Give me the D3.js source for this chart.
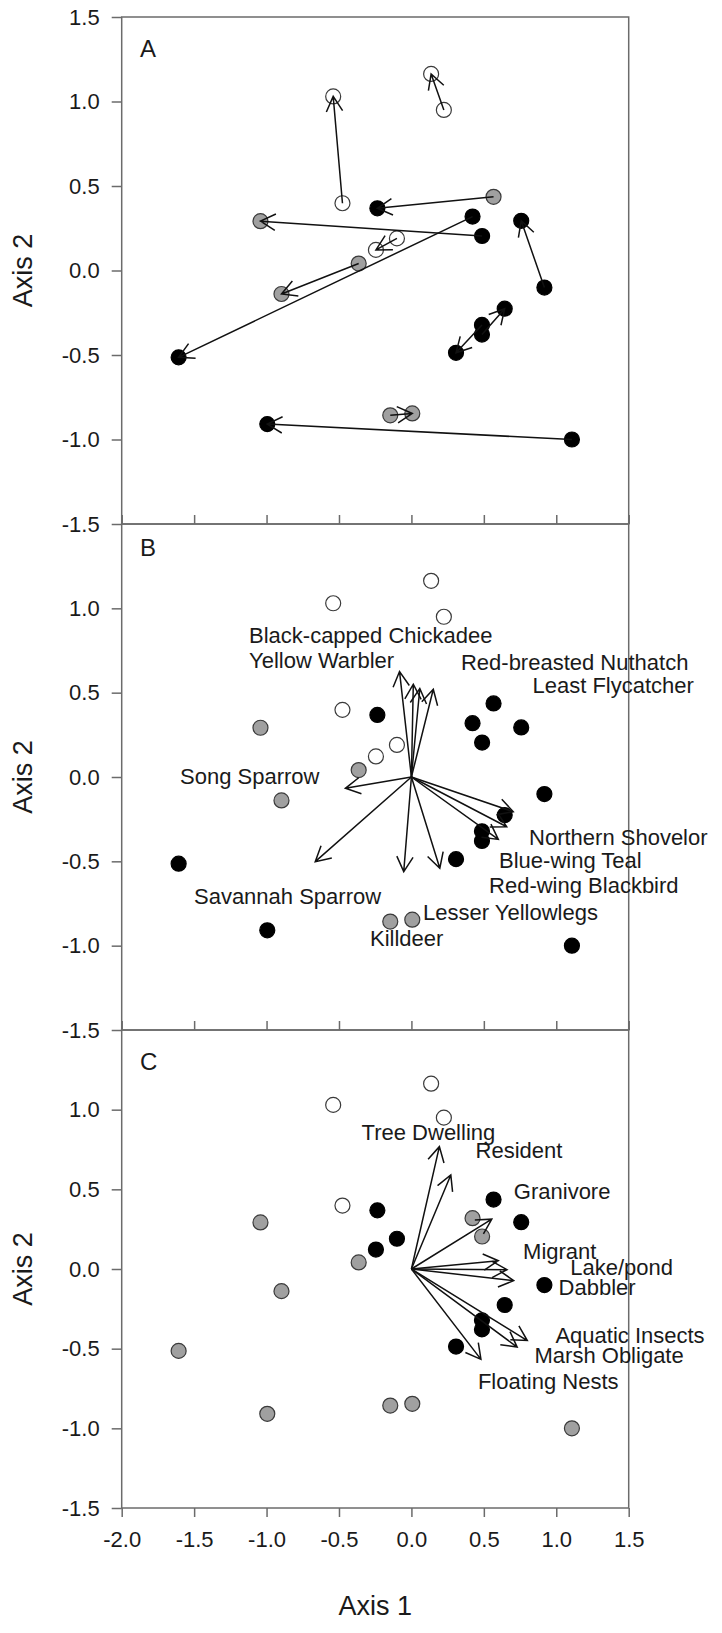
<!DOCTYPE html>
<html>
<head>
<meta charset="utf-8">
<script src="https://cdn.jsdelivr.net/npm/d3@7"></script>
<style>
body { margin: 0; background: #fff; }
svg { display: block; }
text { font-family: "Liberation Sans", Arial, sans-serif; fill: #1a1a1a; }
</style>
</head>
<body>
<svg id="chart"></svg>
<script>
//
// Data
//

// site scores on the two ordination axes (same sites in every panel)
var siteX = [-0.54, 0.136, 0.224, -0.476, -0.10, -0.245, -1.042, -0.364, -0.897, -0.146, 0.006,
  -0.235, 0.567, 0.422, 0.488, 0.758, 0.918, 0.644, 0.487, 0.487, 0.308, -1.607, -0.995, 1.108]
var siteY = [1.03, 1.163, 0.95, 0.398, 0.19, 0.122, 0.292, 0.041, -0.139, -0.857, -0.846,
  0.368, 0.436, 0.319, 0.204, 0.294, -0.101, -0.226, -0.322, -0.379, -0.487, -0.514, -0.909, -1.0]

// symbol per site: o = open, g = grey, b = black
var groupA = ['o','o','o','o','o','o','g','g','g','g','g','b','g','b','b','b','b','b','b','b','b','b','b','b']
var groupB = ['o','o','o','o','o','o','g','g','g','g','g','b','b','b','b','b','b','b','b','b','b','b','b','b']
var groupC = ['o','o','o','o','b','b','g','g','g','g','g','b','b','g','g','b','b','b','b','b','b','g','g','g']

// panel A: movement of sites (index from -> index to)
var moveFrom = [3, 2, 4, 12, 14, 7, 13, 16, 19, 18, 9, 23]
var moveTo   = [0, 1, 5, 11, 6, 8, 21, 15, 17, 20, 10, 22]

// panel B: species vectors
var speciesNames = ['Black-capped Chickadee', 'Yellow Warbler', 'Red-breasted Nuthatch', 'Least Flycatcher',
  'Song Sparrow', 'Northern Shovelor', 'Blue-wing Teal', 'Red-wing Blackbird',
  'Savannah Sparrow', 'Lesser Yellowlegs', 'Killdeer']
var speciesX = [-0.082, 0.013, 0.058, 0.151, -0.456, 0.703, 0.658, 0.60, -0.664, 0.196, -0.053]
var speciesY = [0.625, 0.55, 0.525, 0.52, -0.067, -0.206, -0.295, -0.37, -0.502, -0.541, -0.561]
var speciesLabelX = [-1.121, -1.121, 0.342, 0.836, -1.597, 0.812, 0.605, 0.536, -1.501, 0.08, -0.286]
var speciesLabelY = [0.795, 0.647, 0.634, 0.498, -0.04, -0.403, -0.539, -0.688, -0.753, -0.848, -1.002]

// panel C: trait vectors
var traitNames = ['Tree Dwelling', 'Resident', 'Granivore', 'Migrant', 'Lake/pond', 'Dabbler',
  'Aquatic Insects', 'Marsh Obligate', 'Floating Nests']
var traitX = [0.193, 0.272, 0.555, 0.60, 0.66, 0.706, 0.80, 0.73, 0.48]
var traitY = [0.768, 0.59, 0.313, 0.052, -0.004, -0.073, -0.449, -0.49, -0.567]
var traitLabelX = [-0.344, 0.443, 0.707, 0.771, 1.096, 1.016, 0.994, 0.85, 0.459]
var traitLabelY = [0.809, 0.696, 0.439, 0.063, -0.039, -0.165, -0.467, -0.587, -0.75]

// ticks
var xTicks = [-2.0, -1.5, -1.0, -0.5, 0.0, 0.5, 1.0, 1.5]
var yTicksA = [1.5, 1.0, 0.5, 0.0, -0.5, -1.0, -1.5]
var yTicksBC = [1.0, 0.5, 0.0, -0.5, -1.0, -1.5]

//
// Layout
//

var width = 722, height = 1633
var left = 121.7, right = 628.7
var panelTop = [17, 524, 1030]
var panelBottom = [524, 1030, 1508]
var letterDrop = [40, 32, 40]
var fillOf = { o: '#fff', g: '#a0a0a0', b: '#000' }
var frameColor = '#6b6b6b'
var fmt = function(d) { return d.toFixed(1) }

var svg = d3.select('#chart').attr('width', width).attr('height', height)
svg.append('rect').attr('width', width).attr('height', height).attr('fill', '#fff')

var x = d3.scaleLinear().domain([-2, 1.5]).range([left, right])
var yScales = panelTop.map(function(t, i) {
  return d3.scaleLinear().domain([-1.5, 1.5]).range([panelBottom[i], t])
})

function arrowPath(x1, y1, x2, y2) {
  var len = 17, ang = 0.5
  var a = Math.atan2(y2 - y1, x2 - x1)
  var p1 = [x2 - len * Math.cos(a - ang), y2 - len * Math.sin(a - ang)]
  var p2 = [x2 - len * Math.cos(a + ang), y2 - len * Math.sin(a + ang)]
  return 'M' + x1 + ',' + y1 + 'L' + x2 + ',' + y2 +
    'M' + p1[0] + ',' + p1[1] + 'L' + x2 + ',' + y2 + 'L' + p2[0] + ',' + p2[1]
}

function styleAxis(g) {
  g.select('.domain').remove()
  g.selectAll('.tick line').attr('stroke', frameColor).attr('stroke-width', 1.5)
  g.selectAll('.tick text').style('font-size', '22px').attr('fill', '#1a1a1a')
}

function drawPanel(i, groups, letter) {
  var y = yScales[i]
  var g = svg.append('g')

  // left axis
  g.append('g')
    .attr('transform', 'translate(' + left + ',0)')
    .call(d3.axisLeft(y).tickValues(i === 0 ? yTicksA : yTicksBC).tickSize(10).tickPadding(12).tickFormat(fmt))
    .call(styleAxis)

  // bottom axis
  if (i < 2) {
    g.append('g')
      .attr('transform', 'translate(0,' + panelBottom[i] + ')')
      .call(d3.axisTop(x).tickValues(xTicks).tickSize(9).tickFormat(''))
      .call(styleAxis)
  } else {
    g.append('g')
      .attr('transform', 'translate(0,' + panelBottom[i] + ')')
      .call(d3.axisBottom(x).tickValues(xTicks).tickSize(9).tickPadding(14).tickFormat(fmt))
      .call(styleAxis)
  }

  // frame
  g.append('rect')
    .attr('x', left).attr('y', panelTop[i])
    .attr('width', right - left).attr('height', panelBottom[i] - panelTop[i])
    .attr('fill', 'none').attr('stroke', frameColor).attr('stroke-width', 1.5)

  // panel letter
  g.append('text')
    .attr('x', 140).attr('y', panelTop[i] + letterDrop[i])
    .style('font-size', '24px')
    .text(letter)

  // axis 2 title
  g.append('text')
    .attr('transform', 'translate(32,' + y(0) + ') rotate(-90)')
    .attr('text-anchor', 'middle')
    .style('font-size', '27px')
    .text('Axis 2')

  // sites
  g.append('g').selectAll('circle')
    .data(siteX)
    .join('circle')
    .attr('cx', function(d) { return x(d) })
    .attr('cy', function(d, j) { return y(siteY[j]) })
    .attr('r', 7.5)
    .attr('fill', function(d, j) { return fillOf[groups[j]] })
    .attr('stroke', function(d, j) { return groups[j] === 'b' ? '#000' : '#3a3a3a' })
    .attr('stroke-width', 1.2)

  return g
}

var gA = drawPanel(0, groupA, 'A')
var gB = drawPanel(1, groupB, 'B')
var gC = drawPanel(2, groupC, 'C')

// panel A arrows
gA.append('g').selectAll('path')
  .data(moveFrom)
  .join('path')
  .attr('d', function(f, k) {
    var t = moveTo[k]
    return arrowPath(x(siteX[f]), yScales[0](siteY[f]), x(siteX[t]), yScales[0](siteY[t]))
  })
  .attr('fill', 'none').attr('stroke', '#111').attr('stroke-width', 1.5)

// biplot vectors
function drawVectors(g, y, vx, vy, names, lx, ly) {
  g.append('g').selectAll('path')
    .data(vx)
    .join('path')
    .attr('d', function(d, k) { return arrowPath(x(0), y(0), x(d), y(vy[k])) })
    .attr('fill', 'none').attr('stroke', '#111').attr('stroke-width', 1.5)
  g.append('g').selectAll('text')
    .data(names)
    .join('text')
    .attr('x', function(d, k) { return x(lx[k]) })
    .attr('y', function(d, k) { return y(ly[k]) })
    .style('font-size', '22px')
    .text(function(d) { return d })
}

drawVectors(gB, yScales[1], speciesX, speciesY, speciesNames, speciesLabelX, speciesLabelY)
drawVectors(gC, yScales[2], traitX, traitY, traitNames, traitLabelX, traitLabelY)

// axis 1 title
svg.append('text')
  .attr('x', (left + right) / 2).attr('y', 1615)
  .attr('text-anchor', 'middle')
  .style('font-size', '27px')
  .text('Axis 1')
</script>
</body>
</html>
